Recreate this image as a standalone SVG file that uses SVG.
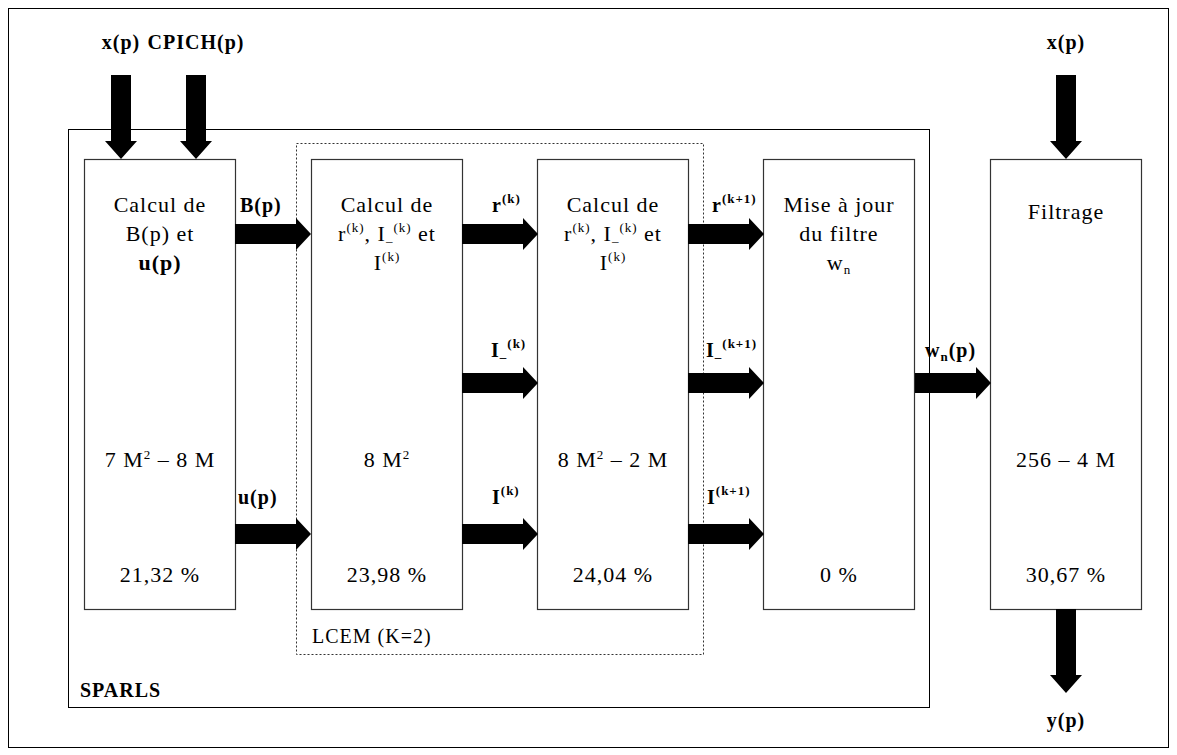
<svg xmlns="http://www.w3.org/2000/svg" width="1177" height="755" viewBox="0 0 1177 755">
<style>
.frame{fill:none;stroke:#000;stroke-width:1}
.box{fill:#fff;stroke:#333;stroke-width:1.2}
.dot{fill:none;stroke:#333;stroke-width:1;stroke-dasharray:2,2}
.arr{fill:#000}
text{font-family:"Liberation Serif","DejaVu Serif","Times New Roman",serif;fill:#000}
.t{font-family:"Liberation Serif","DejaVu Serif","Times New Roman",serif;font-size:22px;letter-spacing:1px;text-anchor:middle}
.l{font-family:"Liberation Serif","DejaVu Serif","Times New Roman",serif;font-size:20px;font-weight:bold;letter-spacing:1px}
.c{text-anchor:middle}
.sup{font-size:13px}
</style>
<defs>
<path id="ha" d="M0,-10 H61 V-16 L76,0 L61,16 V10 H0 Z"/>
<path id="va" d="M-10,0 V66 H-16 L0,84 L16,66 H10 V0 Z"/>
</defs>
<rect x="0" y="0" width="1177" height="755" fill="#fff"/>
<rect class="frame" x="8.5" y="8.5" width="1160" height="739"/>
<g id="sparls">
<rect class="frame" x="68.5" y="129.5" width="861" height="578" stroke="#333"/>
<text class="l" x="80" y="697" font-size="21">SPARLS</text>
</g>
<g id="lcem">
<rect class="dot" x="296.5" y="143.5" width="407" height="511"/>
<text class="l" x="312" y="643" style="font-weight:normal">LCEM (K=2)</text>
</g>
<g id="n1">
<rect class="box" x="84.5" y="159.5" width="151" height="450"/>
<text class="t" x="160" y="212">Calcul de</text>
<text class="t" x="160" y="241">B(p) et</text>
<text class="t" x="160" y="270" font-weight="bold">u(p)</text>
<text class="t" x="160" y="467">7 M<tspan class="sup" dy="-8">2</tspan><tspan dy="8"> – 8 M</tspan></text>
<text class="t" x="160" y="582">21,32 %</text>
</g>
<g id="n2">
<rect class="box" x="311.5" y="159.5" width="151" height="450"/>
<text class="t" x="387" y="212">Calcul de</text>
<text class="t" x="387" y="241">r<tspan class="sup" dy="-9">(k)</tspan><tspan dy="9">, I</tspan><tspan class="sup" dy="4">–</tspan><tspan class="sup" dy="-13">(k)</tspan><tspan dy="9"> et</tspan></text>
<text class="t" x="387" y="270">I<tspan class="sup" dy="-9">(k)</tspan></text>
<text class="t" x="387" y="467">8 M<tspan class="sup" dy="-8">2</tspan></text>
<text class="t" x="387" y="582">23,98 %</text>
</g>
<g id="n3">
<rect class="box" x="537.5" y="159.5" width="151" height="450"/>
<text class="t" x="613" y="212">Calcul de</text>
<text class="t" x="613" y="241">r<tspan class="sup" dy="-9">(k)</tspan><tspan dy="9">, I</tspan><tspan class="sup" dy="4">–</tspan><tspan class="sup" dy="-13">(k)</tspan><tspan dy="9"> et</tspan></text>
<text class="t" x="613" y="270">I<tspan class="sup" dy="-9">(k)</tspan></text>
<text class="t" x="613" y="467">8 M<tspan class="sup" dy="-8">2</tspan><tspan dy="8"> – 2 M</tspan></text>
<text class="t" x="613" y="582">24,04 %</text>
</g>
<g id="n4">
<rect class="box" x="763.5" y="159.5" width="151" height="450"/>
<text class="t" x="839" y="212">Mise à jour</text>
<text class="t" x="839" y="241">du filtre</text>
<text class="t" x="839" y="270">w<tspan class="sup" dy="4">n</tspan></text>
<text class="t" x="839" y="582">0 %</text>
</g>
<g id="n5">
<rect class="box" x="990.5" y="159.5" width="151" height="450"/>
<text class="t" x="1066" y="219">Filtrage</text>
<text class="t" x="1066" y="467">256 – 4 M</text>
<text class="t" x="1066" y="582">30,67 %</text>
</g>
<g id="connectors" class="arr">
<use href="#va" x="121" y="75"/>
<use href="#va" x="196" y="75"/>
<use href="#va" x="1066" y="75"/>
<use href="#va" x="1066" y="609"/>
<use href="#ha" x="235" y="234"/>
<use href="#ha" x="235" y="534"/>
<use href="#ha" x="462" y="234"/>
<use href="#ha" x="462" y="383"/>
<use href="#ha" x="462" y="534"/>
<use href="#ha" x="688" y="234"/>
<use href="#ha" x="688" y="383"/>
<use href="#ha" x="688" y="534"/>
<use href="#ha" x="915" y="383"/>
</g>
<g id="labels">
<text class="l c" x="121" y="49">x(p)</text>
<text class="l c" x="196" y="49">CPICH(p)</text>
<text class="l c" x="1066" y="49">x(p)</text>
<text class="l c" x="1066" y="727">y(p)</text>
<text class="l" x="240" y="212">B(p)</text>
<text class="l" x="238" y="504">u(p)</text>
<text class="l" x="492" y="212">r<tspan class="sup" dy="-9">(k)</tspan></text>
<text class="l" x="491" y="357">I<tspan class="sup" dy="4">–</tspan><tspan class="sup" dy="-13">(k)</tspan></text>
<text class="l" x="492" y="504">I<tspan class="sup" dy="-9">(k)</tspan></text>
<text class="l" x="712" y="212">r<tspan class="sup" dy="-9">(k+1)</tspan></text>
<text class="l" x="706" y="357">I<tspan class="sup" dy="4">–</tspan><tspan class="sup" dy="-13">(k+1)</tspan></text>
<text class="l" x="707" y="504">I<tspan class="sup" dy="-9">(k+1)</tspan></text>
<text class="l" x="925" y="357">w<tspan class="sup" dy="4">n</tspan><tspan dy="-4">(p)</tspan></text>
</g>
</svg>
